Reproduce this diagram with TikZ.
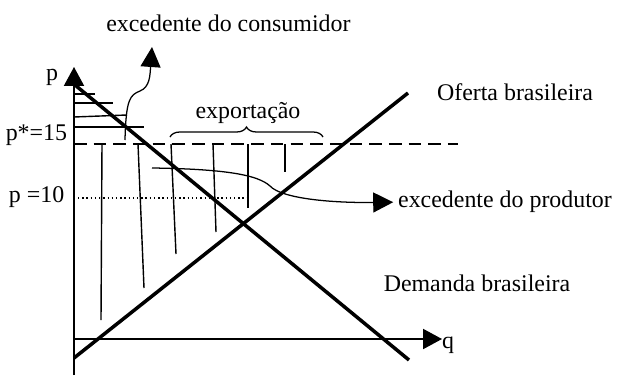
\documentclass[tikz,border=0pt]{standalone}
\usepackage{fontspec}
\setmainfont{Liberation Serif}
\usetikzlibrary{arrows.meta,decorations.pathreplacing}

\begin{document}
\begin{tikzpicture}[every node/.style={font=\fontsize{17}{20}\selectfont},
    axis/.style={line width=1pt, -{Triangle[length=0.47cm,width=0.5cm]}},
    curve/.style={line width=2.5pt},
    hatch/.style={line width=1pt},
    pointer/.style={line width=0.9pt, -{Triangle[length=0.5cm,width=0.5cm]}}]
        \useasboundingbox (-1.85,-0.95) rectangle (13.65,8.475);

        \coordinate (O) at (0,0);
        \coordinate (ptop) at (0,6.8);
        \coordinate (qend) at (9.2,0);
        \draw[axis] (0,-0.9)--(ptop);
        \draw[axis] (O)--(qend);
        \node (p) at (-0.55, 6.55) {p};
        \node (q) at (9.35, -0.15) {q};

        \draw[curve] (0.025,6.35)--(8.375,-0.525);
        \draw[curve] (0,-0.475)--(8.35,6.15);
        \node (demanda) at (10.075, 1.4) {Demanda brasileira};
        \node (oferta) at (11.025, 6.175) {Oferta brasileira};

        \draw[line width=1pt, dash pattern=on 9pt off 5pt] (0,4.875)--(9.6,4.875);
        \draw[line width=1pt, dotted] (0.1,3.525)--(4.35,3.525);
        \node[anchor=east] (pstar) at (-0.05, 5.1) {p*=15};
        \node[anchor=east] (pten) at (-0.12, 3.55) {p =10};

        \draw[hatch] (0,6.125)--(0.525,6.125);
        \draw[hatch] (0,5.9)--(0.975,5.9);
        \draw[hatch] (0,5.55)--(1.325,5.6);
        \draw[hatch] (0,5.3)--(1.75,5.3);

        \draw[hatch] (0.7,4.875)--(0.675,0.475);
        \draw[hatch] (1.6,4.875)--(1.75,1.275);
        \draw[hatch] (2.425,4.875)--(2.55,2.125);
        \draw[hatch] (3.475,4.875)--(3.55,2.675);
        \draw[hatch] (4.35,4.875)--(4.35,3.275);
        \draw[hatch] (5.275,4.875)--(5.275,4.175);

        \draw[line width=0.9pt, decorate, decoration={brace, amplitude=0.25cm}]
            (2.4,5.05)--(6.225,5.05);
        \node (export) at (4.35, 5.65) {exportação};

        \node (consumidor) at (3.86, 7.9) {excedente do consumidor};
        \coordinate (cstart) at (1.275,4.975);
        \coordinate (cend) at (1.95,7.3);
        \draw[pointer] (cstart) .. controls (1.3,6.0) and (1.4,6.1) .. (1.65,6.2)
            .. controls (1.9,6.3) and (1.9,6.6) .. (cend);

        \node[anchor=west] (produtor) at (7.98, 3.42) {excedente do produtor};
        \coordinate (pstart) at (1.95,4.275);
        \draw[pointer] (pstart) .. controls (3.8,4.25) and (4.6,4.1) .. (4.9,3.825)
            .. controls (5.2,3.5) and (6.5,3.4) .. (produtor.west);
    \end{tikzpicture}
\end{document}
